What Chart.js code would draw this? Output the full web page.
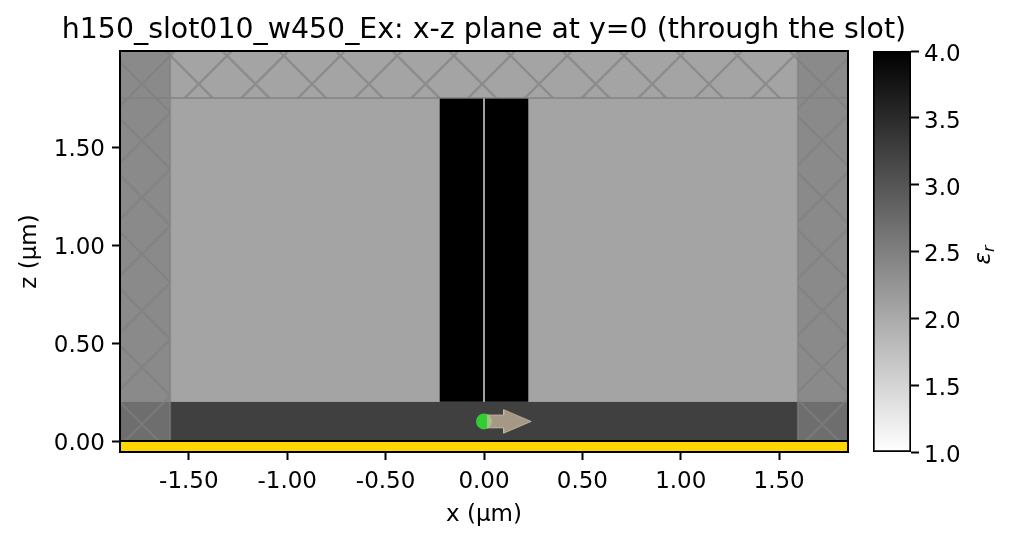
<!DOCTYPE html>
<html>
<head>
<meta charset="utf-8">
<title>x-z plane</title>
<script src="https://cdn.jsdelivr.net/npm/chart.js@4"></script>
<style>
  html, body { margin: 0; padding: 0; background: #fff; }
  #wrap { position: relative; width: 1014px; height: 543px; overflow: hidden; }
  canvas { position: absolute; top: 0; }
  #cbLabel {
    position: absolute; left: 962px; top: 242px; width: 40px; text-align: center;
    font: italic 23px "DejaVu Sans"; transform: rotate(-90deg); color: #000;
  }
  #cbLabel sub { font-size: 16px; vertical-align: -4px; line-height: 0; }
</style>
</head>
<body>
<div id="wrap">
  <canvas id="plot" width="968" height="543" style="left:0"></canvas>
  <canvas id="cbar" width="154" height="543" style="left:860px"></canvas>
  <div id="cbLabel">ε<sub>r</sub></div>
</div>
<script>
const titleText = 'h150_slot010_w450_Ex: x-z plane at y=0 (through the slot)';
const xTicks = [-1.5, -1.0, -0.5, 0, 0.5, 1.0, 1.5];
const zTicks = [0, 0.5, 1.0, 1.5];
const cbarTicks = [1.0, 1.5, 2.0, 2.5, 3.0, 3.5, 4.0];

const xLimits = [-1.85, 1.85];
const zLimits = [-0.056, 1.99];

// regions as [x0, x1, z0, z1] in um
const cladding = [-1.85, 1.85, 0.2, 1.99];
const slab = [-1.85, 1.85, 0, 0.2];
const pec = [-1.85, 1.85, -0.056, 0];
const coreLeft = [-0.225, -0.005, 0.2, 1.75];
const coreRight = [0.005, 0.225, 0.2, 1.75];
const pmlLeft = [-1.85, -1.595, 0, 1.99];
const pmlRight = [1.595, 1.85, 0, 1.99];
const pmlTop = [-1.595, 1.595, 1.75, 1.99];
const pmlEdge = [[-1.85, 1.75], [1.85, 1.75]];

const sourceX = [0];
const sourceZ = [0.1];
const arrowX = [0.015, 0.1, 0.1, 0.24, 0.1, 0.1, 0.015];
const arrowZ = [0.067, 0.067, 0.04, 0.1, 0.16, 0.133, 0.133];

const rect = r => [
  {x: r[0], y: r[2]}, {x: r[1], y: r[2]}, {x: r[1], y: r[3]}, {x: r[0], y: r[3]}, {x: r[0], y: r[2]}
];

function hatchPattern() {
  const t = document.createElement('canvas');
  t.width = 120; t.height = 120;
  const c = t.getContext('2d');
  c.strokeStyle = 'rgba(128,128,128,0.65)';
  c.lineWidth = 5;
  c.beginPath();
  c.moveTo(-10, -10); c.lineTo(130, 130);
  c.moveTo(130, -10); c.lineTo(-10, 130);
  c.stroke();
  const p = document.createElement('canvas').getContext('2d').createPattern(t, 'repeat');
  const tile = 56.7;
  p.setTransform(new DOMMatrix().translate(142 - tile / 2, 84 - tile / 2).scale(tile / 120));
  return p;
}
const hatch = hatchPattern();

const region = (r, fillColor, extra) => Object.assign({
  data: rect(r), backgroundColor: fillColor, borderColor: 'transparent', borderWidth: 0,
  fill: 'shape', showLine: true, pointRadius: 0
}, extra || {});

// listed bottom layer first
const layers = [
  region(cladding, '#a4a4a4'),
  region(slab, '#404040'),
  region(coreLeft, '#000000'),
  region(coreRight, '#000000'),
  region(pmlLeft, 'rgba(128,128,128,0.72)'),
  region(pmlRight, 'rgba(128,128,128,0.72)'),
  region(pmlLeft, hatch, {borderColor: 'rgba(128,128,128,0.6)', borderWidth: 2}),
  region(pmlRight, hatch, {borderColor: 'rgba(128,128,128,0.6)', borderWidth: 2}),
  region(pmlTop, hatch),
  {data: pmlEdge.map(p => ({x: p[0], y: p[1]})), showLine: true, pointRadius: 0,
    borderColor: 'rgba(128,128,128,0.7)', borderWidth: 2},
  region(pec, '#ffd700', {borderColor: '#000', borderWidth: 2, clip: false}),
  {data: sourceX.map((x, i) => ({x, y: sourceZ[i]})), pointRadius: 8, pointBorderWidth: 0,
    pointBackgroundColor: '#32cd32', showLine: false},
  {data: arrowX.map((x, i) => ({x, y: arrowZ[i]})), backgroundColor: 'rgba(210,190,165,0.7)',
    borderColor: 'rgba(210,190,165,0.7)', borderWidth: 1, fill: 'shape', showLine: true, pointRadius: 0},
  region([xLimits[0], xLimits[1], zLimits[0], zLimits[1]], 'transparent',
    {fill: false, borderColor: '#000', borderWidth: 2, clip: false})
];
layers.forEach((d, i) => { d.order = layers.length - i; });

const font = {family: '"DejaVu Sans"', size: 23};
const axisGrid = {drawOnChartArea: false, tickLength: 8, tickWidth: 2, tickColor: '#000'};
const axisBorder = {color: '#000', width: 2};

// canvas "middle" sits a little high for these digits, nudge the y labels down
const nudgeLabels = dy => ({
  id: 'nudgeLabels',
  beforeDraw(chart) {
    chart.scales.y.getLabelItems().forEach(it => { it.options.translation[1] += dy; });
  }
});

new Chart(document.getElementById('plot'), {
  type: 'scatter',
  data: {datasets: layers},
  plugins: [nudgeLabels(3)],
  options: {
    responsive: false,
    animation: false,
    devicePixelRatio: 1,
    plugins: {
      legend: {display: false},
      tooltip: {enabled: false},
      title: {
        display: true, text: titleText, color: '#000',
        font: {family: '"DejaVu Sans"', size: 28.4, weight: 'normal'},
        padding: {top: 14, bottom: 2.9}
      }
    },
    scales: {
      x: {
        type: 'linear', min: xLimits[0], max: xLimits[1],
        afterBuildTicks: s => { s.ticks = xTicks.map(v => ({value: v})); },
        afterFit: s => { s.height = 91; },
        grid: axisGrid, border: axisBorder,
        ticks: {color: '#000', font, padding: 8, maxRotation: 0, autoSkip: false,
          callback: v => v.toFixed(2)},
        title: {display: true, text: 'x (µm)', color: '#000', font, padding: {top: 4, bottom: 14}}
      },
      y: {
        type: 'linear', min: zLimits[0], max: zLimits[1],
        afterBuildTicks: s => { s.ticks = zTicks.map(v => ({value: v})); },
        afterFit: s => { s.width = 120; },
        grid: axisGrid, border: axisBorder,
        ticks: {color: '#000', font, padding: 7, autoSkip: false,
          callback: v => v.toFixed(2)},
        title: {display: true, text: 'z (µm)', color: '#000', font, padding: {top: 16, bottom: 4}}
      },
      // empty axis: keeps the title centred over the plot while the plot stops at 848
      spacer: {
        position: 'right', min: 0, max: 1,
        afterFit: s => { s.width = 120; },
        grid: {display: false}, border: {display: false}, ticks: {display: false}
      }
    }
  }
});

new Chart(document.getElementById('cbar'), {
  type: 'bar',
  data: {
    labels: ['eps'],
    datasets: [{
      data: [[cbarTicks[0], cbarTicks[cbarTicks.length - 1]]],
      barPercentage: 1, categoryPercentage: 1,
      borderColor: '#000', borderWidth: 2, borderSkipped: false,
      backgroundColor: ctx => {
        const a = ctx.chart.chartArea;
        if (!a) return '#888';
        const g = ctx.chart.ctx.createLinearGradient(0, a.bottom, 0, a.top);
        g.addColorStop(0, '#ffffff');
        g.addColorStop(1, '#000000');
        return g;
      }
    }]
  },
  plugins: [nudgeLabels(4)],
  options: {
    responsive: false,
    animation: false,
    devicePixelRatio: 1,
    layout: {padding: {left: 13, top: 51, right: 0, bottom: 91}},
    plugins: {legend: {display: false}, tooltip: {enabled: false}},
    scales: {
      x: {display: false},
      y: {
        position: 'right', min: 1, max: 4,
        afterBuildTicks: s => { s.ticks = cbarTicks.map(v => ({value: v})); },
        afterFit: s => { s.width = 103; },
        grid: axisGrid, border: {display: false},
        ticks: {color: '#000', font, padding: 5, autoSkip: false, callback: v => v.toFixed(1)}
      }
    }
  }
});
</script>
</body>
</html>
